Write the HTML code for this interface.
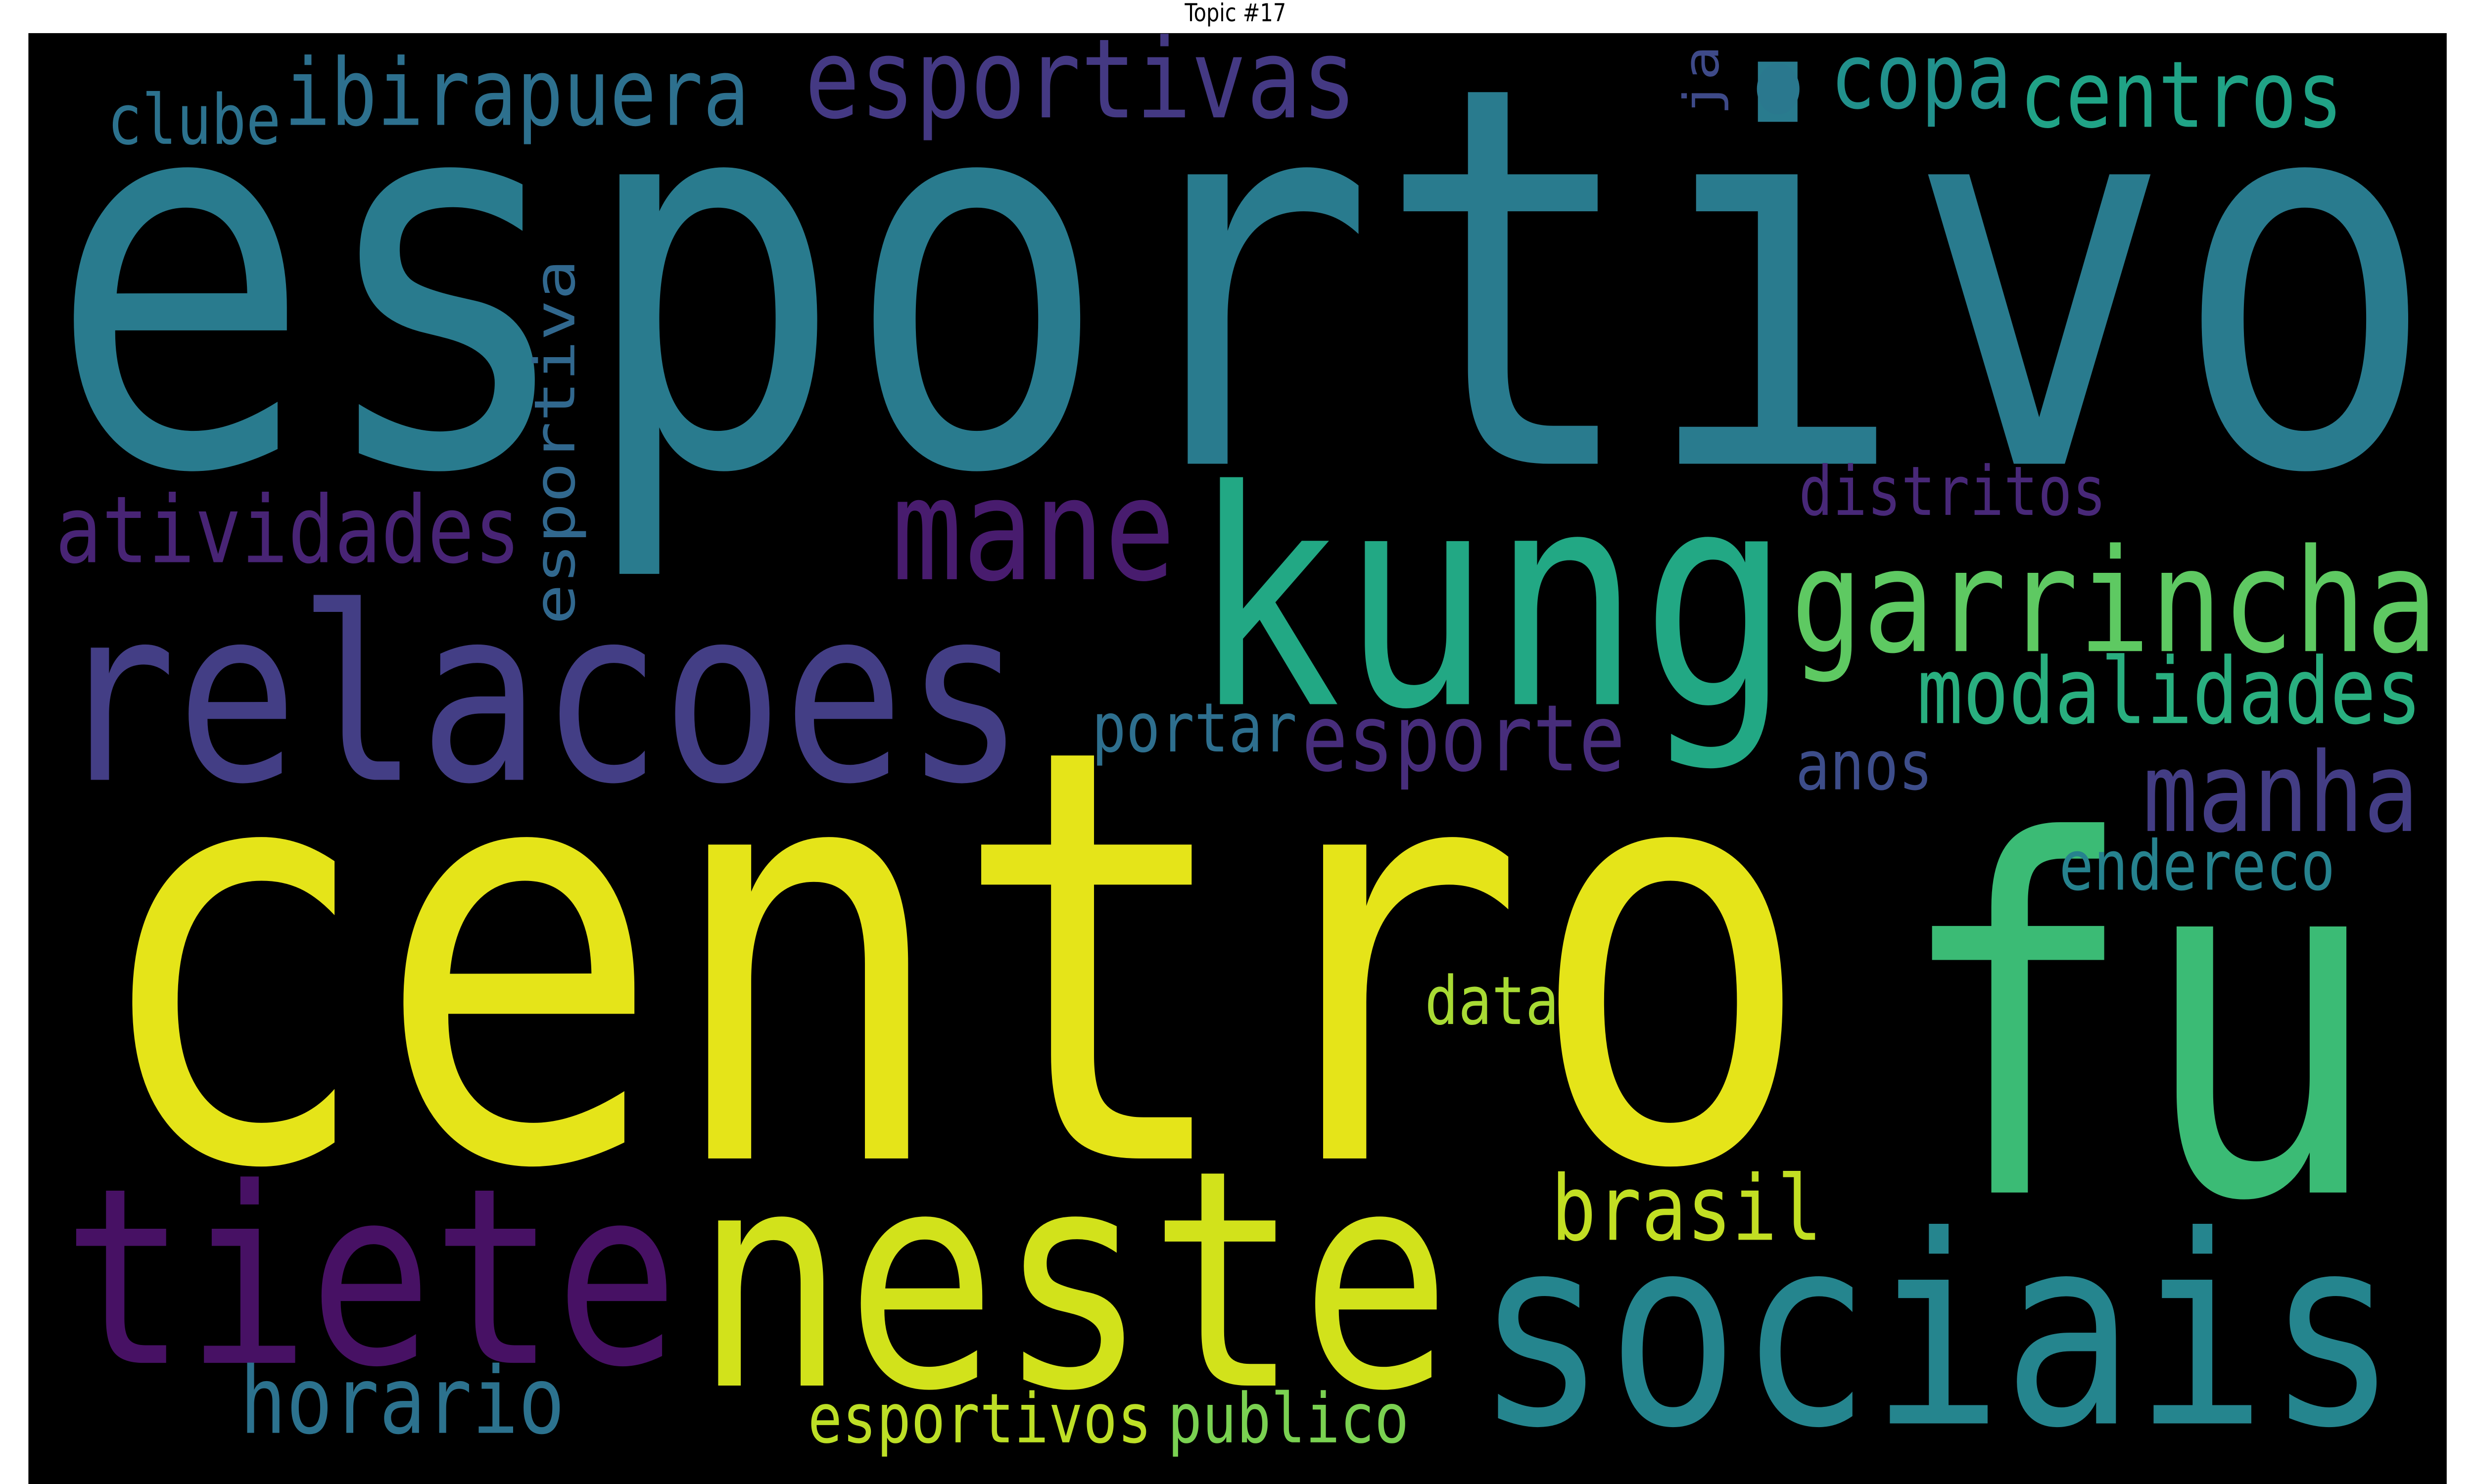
<!DOCTYPE html>
<html><head><meta charset="utf-8"><style>
html,body{margin:0;padding:0;background:#fff;width:100%;height:100%;overflow:hidden}
svg{display:block;width:100vw;height:100vh}
text{font-family:"DejaVu Sans Mono","Liberation Mono",monospace}
</style></head><body>
<svg viewBox="0 0 1568 784" preserveAspectRatio="none" xmlns="http://www.w3.org/2000/svg">
<text x="783" y="11.2" text-anchor="middle" font-size="13" style="font-family:'DejaVu Sans','Liberation Sans',sans-serif" fill="#000">Topic #17</text>
<rect x="18" y="17.5" width="1532.7" height="766.5" fill="#000"/>
<g id="words"></g>
<circle cx="1127" cy="47" r="13.5" fill="#2a788e"/>
</svg>
<script>
const words = ["esportivo","centro","fu","kung","relacoes","garrincha","mane","tiete","neste","sociais","esportivas","ibirapuera","clube","copa","centros","atividades","distritos","modalidades","portar","esporte","manha","anos","endereco","data","brasil","horario","esportivos","publico","esportiva","ja"];
const xs = [30,55,1200,755,35,1135,565,40,440,935,510,180,68,1160,1280,35,1140,1215,692,825,1358,1138,1305,903,983,152,512,740,364,1089];
const ys = [245,612,630,372,412,344,306,720,732,752,62,66,76,57,67,297,272,382,397,407,439,417,470,541,655,757,762,762,330,61];
const ws = [1515,1095,310,380,615,410,180,390,480,585,350,295,110,115,205,295,195,320,130,205,175,87,175,85,172,206,218,153,193,37];
const colors = ["#297b8e","#e5e419","#3bbb75","#22a884","#433e85","#5ec962","#481c6e","#471164","#d2e21b","#25858e","#443983","#2d708e","#2c728e","#21918c","#20a386","#482475","#482878","#29af7f","#2e6f8e","#472d7b","#433d84","#3d4d8a","#26828e","#a8db34","#c2df23","#2c728e","#bddf26","#7ad151","#31688e","#3e4a89"];
const vertical = [0,0,0,0,0,0,0,0,0,0,0,0,0,0,0,0,0,0,0,0,0,0,0,0,0,0,0,0,1,1];
const g = document.getElementById('words');
for (let i = 0; i < words.length; i++) {
  const t = document.createElementNS('http://www.w3.org/2000/svg','text');
  
  
  const size = ws[i] / (words[i].length * 0.602);
  t.setAttribute('font-size', size.toFixed(2));
  t.setAttribute('fill', colors[i]);
  t.setAttribute('textLength', ws[i]);
  t.setAttribute('lengthAdjust', 'spacingAndGlyphs');
  if (vertical[i]) {
    t.setAttribute('transform', 'translate(' + xs[i] + ',' + ys[i] + ') rotate(-90)');
    t.setAttribute('x', 0); t.setAttribute('y', 0);
  } else {
    t.setAttribute('x', xs[i]); t.setAttribute('y', ys[i]);
  }
  t.textContent = words[i];
  g.appendChild(t);
}
</script>
</body></html>
